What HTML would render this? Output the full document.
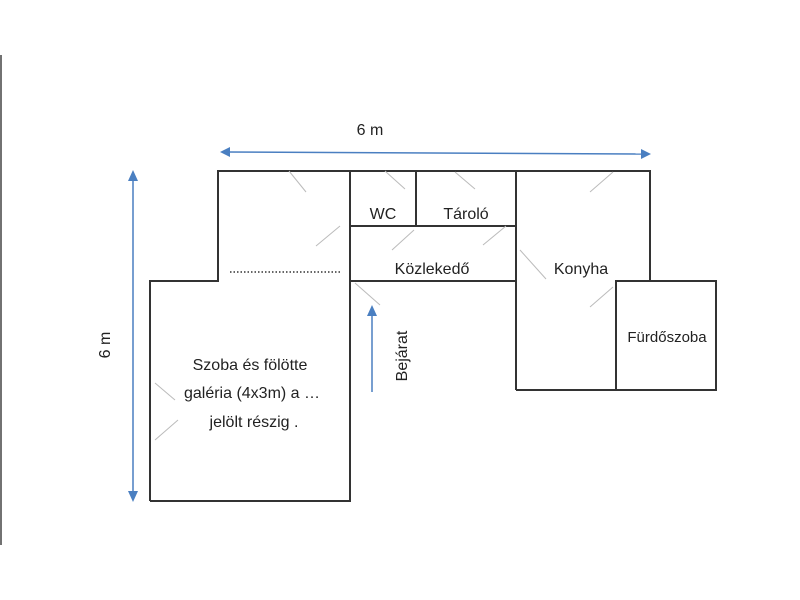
<!DOCTYPE html>
<html><head><style>
html,body{margin:0;padding:0;background:#fff;}
svg{display:block;}
text{font-family:"Liberation Sans",sans-serif;fill:#222;}
</style></head><body>
<svg width="800" height="600" viewBox="0 0 800 600">
<line x1="1" y1="55" x2="1" y2="545" stroke="#444" stroke-width="1.5"/>
<g stroke="#333" stroke-width="2" fill="none">
<polyline points="150,501 150,281 218,281 218,171 650,171 650,281"/>
<polyline points="150,501 350,501 350,171"/>
<line x1="350" y1="226" x2="516" y2="226"/>
<line x1="350" y1="281" x2="516" y2="281"/>
<line x1="416" y1="171" x2="416" y2="226"/>
<line x1="516" y1="171" x2="516" y2="390"/>
<polyline points="516,390 716,390 716,281 616,281 616,390"/>
</g>
<g stroke="#bbb" stroke-width="1">
<line x1="289" y1="171" x2="306" y2="192"/>
<line x1="316" y1="246" x2="340" y2="226"/>
<line x1="385" y1="171" x2="405" y2="189"/>
<line x1="455" y1="172" x2="475" y2="189"/>
<line x1="392" y1="250" x2="414" y2="230"/>
<line x1="483" y1="245" x2="506" y2="226"/>
<line x1="590" y1="192" x2="613" y2="172"/>
<line x1="520" y1="250" x2="546" y2="279"/>
<line x1="590" y1="307" x2="613" y2="287"/>
<line x1="355" y1="283" x2="380" y2="305"/>
<line x1="155" y1="383" x2="175" y2="400"/>
<line x1="155" y1="440" x2="178" y2="420"/>
</g>
<line x1="230" y1="272" x2="340" y2="272" stroke="#333" stroke-width="1.5" stroke-dasharray="1.5,2"/>
<g stroke="#4a7fc1" stroke-width="1.5" fill="#4a7fc1">
<line x1="226" y1="152" x2="643" y2="154"/>
<polygon points="220,152 230,147 230,157" stroke="none"/>
<polygon points="651,154 641,149 641,159" stroke="none"/>
<line x1="133" y1="178" x2="133" y2="495"/>
<polygon points="133,170 128,181 138,181" stroke="none"/>
<polygon points="133,502 128,491 138,491" stroke="none"/>
<line x1="372" y1="313" x2="372" y2="392"/>
<polygon points="372,305 367,316 377,316" stroke="none"/>
</g>
<text x="370" y="135" font-size="16" text-anchor="middle">6 m</text>
<text transform="translate(110,345) rotate(-90)" font-size="16" text-anchor="middle">6 m</text>
<text x="383" y="219" font-size="16" text-anchor="middle">WC</text>
<text x="466" y="219" font-size="16" text-anchor="middle">Tároló</text>
<text x="432" y="274" font-size="16" text-anchor="middle">Közlekedő</text>
<text x="581" y="274" font-size="16" text-anchor="middle">Konyha</text>
<text x="667" y="342" font-size="15" text-anchor="middle">Fürdőszoba</text>
<text transform="translate(407,356) rotate(-90)" font-size="16" text-anchor="middle">Bejárat</text>
<text x="250" y="370" font-size="16" text-anchor="middle">Szoba és fölötte</text>
<text x="252" y="398" font-size="16" text-anchor="middle">galéria (4x3m) a …</text>
<text x="254" y="427" font-size="16" text-anchor="middle">jelölt részig .</text>
</svg>
</body></html>
